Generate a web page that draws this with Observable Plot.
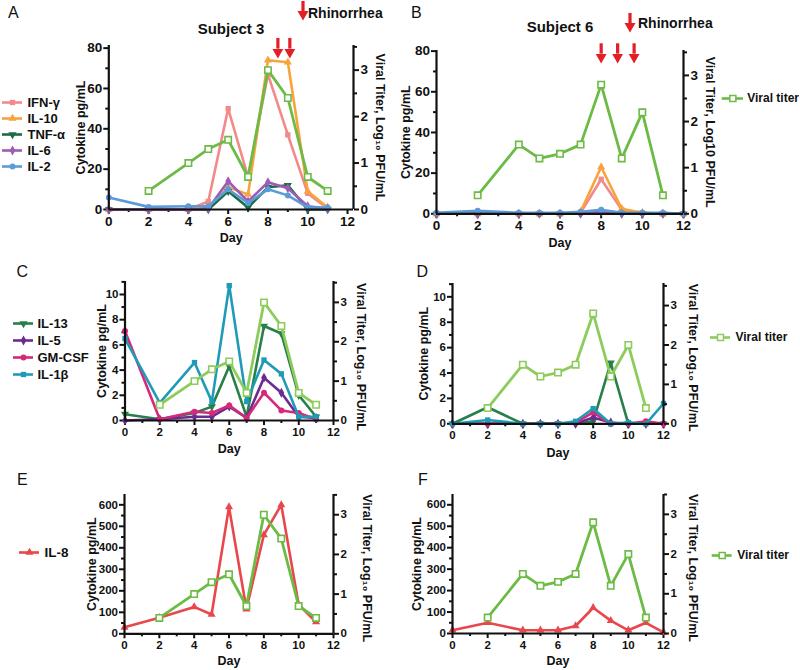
<!DOCTYPE html>
<html><head><meta charset="utf-8">
<script src="https://cdn.jsdelivr.net/npm/d3@7"></script>
<script src="https://cdn.jsdelivr.net/npm/@observablehq/plot@0.6"></script>
<style>
body{margin:0;background:#fff;}
#root{position:relative;width:800px;height:670px;font-family:"Liberation Sans",Arial,Helvetica,sans-serif;overflow:hidden;background:#fff}
#root > *{position:absolute}
.letter{font-size:16px;line-height:1;font-weight:normal;color:#111}
.title{font-size:15px;line-height:1;font-weight:bold;color:#111;transform:translateX(-50%);white-space:nowrap}
.rhino{font-size:14px;line-height:1;font-weight:bold;color:#111;white-space:nowrap}
</style></head><body><div id="root"></div>
<script>
// ---------- data ----------
const xMajor = [0, 2, 4, 6, 8, 10, 12];
const xMinor = [1, 3, 5, 7, 9, 11];

// Subject 3
const daysS3 = [0, 2, 4, 5, 6, 7, 8, 9, 10, 11];
const titerDays = [2, 4, 5, 6, 7, 8, 9, 10, 11];
const titerS3 = [0.4, 1.0, 1.3, 1.5, 0.7, 3.0, 2.4, 0.7, 0.4];
const ifngS3 = [0, 0, 0, 4, 50, 16, 67, 37, 8, 0.5];
const il10S3 = [0, 0, 0, 1, 11, 7.5, 74, 73, 9, 1];
const tnfaS3 = [0, 0, 0, 0, 9, 1, 11, 12, 0, 0];
const il6S3 = [0, 0, 0, 0.5, 14, 4, 13.5, 10.5, 1.6, 0.5];
const il2S3 = [6, 1.3, 1.6, 1.6, 10, 3.2, 10, 7, 1.1, 1];
const il13S3 = [0.5, 0.1, 0.6, 1.1, 4.3, 0.3, 7.5, 6.9, 2.0, 0.3];
const il5S3 = [0, 0.1, 0.3, 0.3, 1.1, 0.2, 3.4, 2.2, 0.3, 0.2];
const gmcsfS3 = [7.1, 0.1, 0.7, 0.6, 1.2, 0.2, 2.2, 0.8, 0.6, 0.1];
const il1bS3 = [6.5, 1.4, 4.6, 1.5, 10.7, 1.5, 4.8, 3.7, 0.3, 0.3];
const il8S3 = [30, 75, 125, 90, 590, 115, 460, 600, 135, 55];

// Subject 6
const daysS6 = [0, 2, 4, 5, 6, 7, 8, 9, 10, 11, 12];
const titerS6B = [0.4, 1.5, 1.2, 1.3, 1.5, 2.8, 1.2, 2.2, 0.4];
const titerS6 = [0.4, 1.5, 1.2, 1.3, 1.5, 2.8, 1.2, 2.0, 0.4];
const ifngS6 = [0, 0, 0, 0, 0, 0.5, 17, 2, 0.5, 0, 0];
const il10S6 = [0, 0, 0, 0, 0, 1, 23, 2.5, 0.5, 0, 0];
const tnfaS6 = [0, 0, 0, 0, 0, 0, 1, 0, 0, 0, 0];
const il6S6 = [0, 0, 0, 0, 0, 0, 1.2, 0, 0, 0, 0];
const il2S6 = [0.5, 1.5, 0.5, 0.5, 0.5, 1, 2, 0.5, 0.5, 0.5, 0];
const il13S6 = [0, 1.3, 0, 0, 0, 0, 0.2, 4.8, 0, 0, 0];
const il5S6 = [0, 0, 0, 0, 0, 0, 0.5, 0.1, 0, 0, 0];
const gmcsfS6 = [0, 0, 0, 0, 0, 0.1, 0.9, 0, 0, 0.2, 0];
const il1bS6 = [0, 0.3, 0, 0, 0, 0.2, 1.2, 0, 0.1, 0, 1.6];
const il8S6 = [15, 50, 15, 15, 15, 35, 120, 60, 15, 50, 5];

// rhinorrhea arrows (day positions)
const rhinoDaysA = [8.5, 9.1];
const rhinoDaysB = [8, 8.8, 9.6];

// ---------- styles ----------
const C = {
  ifng: "#f28a8a", il10: "#f8a33c", tnfa: "#1c6b45", il6: "#9d5cb6", il2: "#5d9bd8",
  titer: "#6cbb45", titerLight: "#8dcc5b",
  il13: "#278049", il5: "#6b2c92", gmcsf: "#d6297a", il1b: "#1f9bb8", il8: "#e8474c",
  red: "#e41e26"
};
const FONT = '"Liberation Sans", Arial, Helvetica, sans-serif';

const root = document.getElementById("root");
function zip(days, vals) { return days.map((d, i) => ({day: d, v: vals[i]})); }

function seriesMarks(s) {
  const data = zip(s.days, s.values);
  return [
    Plot.line(data, {x: "day", y: "v", stroke: s.color, strokeWidth: 2.6, strokeLinejoin: "round"}),
    Plot.dot(data, {x: "day", y: "v", symbol: s.symbol, rotate: s.rotate || 0, fill: s.color, r: 3})
  ];
}

function place(el, left, top) {
  el.style.position = "absolute";
  el.style.left = left + "px";
  el.style.top = top + "px";
  root.appendChild(el);
}

function buildPanel(p) {
  const W = p.width, H = p.height;
  const margins = {
    marginLeft: p.fx0 - p.left, marginRight: p.left + W - p.fx1,
    marginTop: p.fy0 - p.top, marginBottom: p.top + H - p.fy1
  };
  const style = {background: "transparent", overflow: "visible", fontFamily: FONT, fontWeight: "bold", fontSize: p.tickFs + "px", color: "#111"};
  const m1 = [];
  m1.push(Plot.axisX({ticks: xMajor, tickSize: 5, tickPadding: 2, tickFormat: d => String(d), label: null, strokeWidth: 2, fontSize: p.tickFs}));
  m1.push(Plot.axisX({ticks: xMinor, tickSize: 3, tickFormat: () => "", label: null, strokeWidth: 2}));
  m1.push(Plot.axisY({anchor: "left", ticks: p.yTicks, tickSize: 5, tickPadding: 1.5, tickFormat: d => String(d), label: null, strokeWidth: 2, fontSize: p.tickFs}));
  m1.push(Plot.axisY({anchor: "left", ticks: p.yMinor, tickSize: 3, tickFormat: () => "", label: null, strokeWidth: 2}));
  for (const s of p.series) m1.push(...seriesMarks(s));
  m1.push(Plot.ruleX([p.xDomain[0]], {x: d => d, stroke: "#111", strokeWidth: 2.2}));
  m1.push(Plot.ruleY([0], {y: d => d, stroke: "#111", strokeWidth: 2.2}));
  if (p.arrows) {
    m1.push(Plot.ruleX(p.arrows.days, {x: d => d, y1: p.arrows.top, y2: p.arrows.mid, stroke: C.red, strokeWidth: 3.2}));
    m1.push(Plot.dot(p.arrows.days, {x: d => d, y: p.arrows.head, symbol: "triangle", rotate: 180, fill: C.red, r: 4}));
  }
  m1.push(Plot.text(["Day"], {text: d => d, frameAnchor: "bottom", textAnchor: "middle", lineAnchor: "middle", dy: p.dayDy, fontSize: 12.5, fontWeight: "bold"}));
  m1.push(Plot.text(["Cytokine pg/mL"], {text: d => d, frameAnchor: "left", textAnchor: "middle", lineAnchor: "middle", rotate: -90, dx: p.ldx, fontSize: 12.5, fontWeight: "bold"}));

  const svg1 = Plot.plot({
    width: W, height: H, ...margins, style,
    x: {domain: p.xDomain},
    y: {domain: p.yDomain},
    marks: m1
  });

  const td = zip(titerDays, p.titer);
  const m2 = [
    Plot.axisY({anchor: "right", ticks: [0, 1, 2, 3], tickSize: 5, tickPadding: 2, tickFormat: d => String(d), label: null, strokeWidth: 2, fontSize: p.tickFs}),
    Plot.axisY({anchor: "right", ticks: [0.5, 1.5, 2.5, 3.5], tickSize: 3, tickFormat: () => "", label: null, strokeWidth: 2}),
    Plot.ruleX([p.xDomain[1]], {x: d => d, stroke: "#111", strokeWidth: 2.2}),
    Plot.line(td, {x: "day", y: "v", stroke: p.titerColor, strokeWidth: 2.8, strokeLinejoin: "round"}),
    Plot.dot(td, {x: "day", y: "v", symbol: "square", fill: "white", stroke: p.titerColor, strokeWidth: 1.6, r: 3.6}),
    Plot.text([p.rightTitle], {text: d => d, frameAnchor: "right", textAnchor: "middle", lineAnchor: "middle", rotate: 90, dx: p.rdx, dy: p.rdy || 0, fontSize: 12.5, fontWeight: "bold"})
  ];
  const svg2 = Plot.plot({
    width: W, height: H, ...margins, style,
    x: {domain: p.xDomain, axis: null},
    y: {domain: p.rDomain},
    marks: m2
  });
  place(svg1, p.left, p.top);
  place(svg2, p.left, p.top);
}

function buildLegend(l) {
  const marks = [];
  for (const it of l.items) {
    marks.push(Plot.ruleY([it.name], {y: d => d, x1: l.x0, x2: l.x1, stroke: it.color, strokeWidth: 2.6}));
    marks.push(Plot.dot([it.name], {y: d => d, x: (l.x0 + l.x1) / 2, symbol: it.symbol, rotate: it.rotate || 0,
      fill: it.open ? "white" : it.color, stroke: it.open ? it.color : "none", strokeWidth: it.open ? 1.5 : 0, r: it.open ? 3.4 : 3}));
  }
  marks.push(Plot.text(l.items, {y: "name", x: l.tx, text: "name", textAnchor: "start", lineAnchor: "middle", fontSize: l.fs, fontWeight: "bold", fill: "#111"}));
  const svg = Plot.plot({
    width: l.width, height: l.height, margin: 0,
    style: {background: "transparent", overflow: "visible", fontFamily: FONT},
    x: {type: "identity", axis: null},
    y: {type: "point", domain: l.items.map(d => d.name), range: l.range, padding: 0, axis: null},
    marks
  });
  place(svg, l.left, l.top);
}

// ---------- panels ----------
const itemsA = [
  {name: "IFN-γ", color: C.ifng, symbol: "square"},
  {name: "IL-10", color: C.il10, symbol: "triangle"},
  {name: "TNF-α", color: C.tnfa, symbol: "triangle", rotate: 180},
  {name: "IL-6", color: C.il6, symbol: "diamond"},
  {name: "IL-2", color: C.il2, symbol: "circle"}
];
const itemsC = [
  {name: "IL-13", color: C.il13, symbol: "triangle", rotate: 180},
  {name: "IL-5", color: C.il5, symbol: "diamond"},
  {name: "GM-CSF", color: C.gmcsf, symbol: "circle"},
  {name: "IL-1β", color: C.il1b, symbol: "square"}
];

const mk = (days, vals, it) => ({days, values: vals, color: it.color, symbol: it.symbol, rotate: it.rotate});

buildPanel({
  left: 0, top: 0, width: 400, height: 250, fx0: 108.3, fx1: 353, fy0: 45, fy1: 209,
  xDomain: [0, 12.3], yDomain: [0, 81.3], rDomain: [0, 3.53],
  yTicks: [0, 20, 40, 60, 80], yMinor: [10, 30, 50, 70], tickFs: 13.5,
  series: [mk(daysS3, ifngS3, itemsA[0]), mk(daysS3, il10S3, itemsA[1]), mk(daysS3, tnfaS3, itemsA[2]), mk(daysS3, il6S3, itemsA[3]), mk(daysS3, il2S3, itemsA[4])],
  titer: titerS3, titerColor: C.titer,
  arrows: {days: rhinoDaysA, top: 84.8, mid: 79.5, head: 78},
  dayDy: 28, ldx: -28, rdx: 26, rightTitle: "Viral Titer, Log₁₀ PFU/mL"
});
buildPanel({
  left: 400, top: 0, width: 400, height: 250, fx0: 436, fx1: 683, fy0: 50, fy1: 213.3,
  xDomain: [0, 12], yDomain: [0, 80.3], rDomain: [0, 3.54],
  yTicks: [0, 20, 40, 60, 80], yMinor: [10, 30, 50, 70], tickFs: 13.5,
  series: [mk(daysS6, ifngS6, itemsA[0]), mk(daysS6, il10S6, itemsA[1]), mk(daysS6, tnfaS6, itemsA[2]), mk(daysS6, il6S6, itemsA[3]), mk(daysS6, il2S6, itemsA[4])],
  titer: titerS6B, titerColor: C.titer,
  arrows: {days: rhinoDaysB, top: 83.6, mid: 78.5, head: 77},
  dayDy: 29, ldx: -31, rdx: 26, rightTitle: "Viral Titer, Log10 PFU/mL"
});
buildPanel({
  left: 0, top: 230, width: 400, height: 230, fx0: 124.5, fx1: 333, fy0: 281, fy1: 420,
  xDomain: [0, 12], yDomain: [0, 11.03], rDomain: [0, 3.53],
  yTicks: [0, 2, 4, 6, 8, 10], yMinor: [1, 3, 5, 7, 9, 11], tickFs: 11.5,
  series: [mk(daysS3, il13S3, itemsC[0]), mk(daysS3, il5S3, itemsC[1]), mk(daysS3, gmcsfS3, itemsC[2]), mk(daysS3, il1bS3, itemsC[3])],
  titer: titerS3, titerColor: C.titerLight,
  dayDy: 28, ldx: -23, rdx: 27, rdy: 6, rightTitle: "Viral Titer, Log₁₀ PFU/mL"
});
buildPanel({
  left: 400, top: 230, width: 400, height: 230, fx0: 452, fx1: 663, fy0: 283, fy1: 423.3,
  xDomain: [0, 12], yDomain: [0, 11.05], rDomain: [0, 3.56],
  yTicks: [0, 2, 4, 6, 8, 10], yMinor: [1, 3, 5, 7, 9, 11], tickFs: 11.5,
  series: [mk(daysS6, il13S6, itemsC[0]), mk(daysS6, il5S6, itemsC[1]), mk(daysS6, gmcsfS6, itemsC[2]), mk(daysS6, il1bS6, itemsC[3])],
  titer: titerS6, titerColor: C.titerLight,
  dayDy: 29, ldx: -29, rdx: 29, rdy: 4, rightTitle: "Viral Titer, Log₁₀ PFU/mL"
});
buildPanel({
  left: 0, top: 450, width: 400, height: 220, fx0: 124, fx1: 333, fy0: 494, fy1: 633.3,
  xDomain: [0, 12], yDomain: [0, 648], rDomain: [0, 3.51],
  yTicks: [0, 100, 200, 300, 400, 500, 600], yMinor: [50, 150, 250, 350, 450, 550], tickFs: 11.5,
  series: [mk(daysS3, il8S3, {color: C.il8, symbol: "triangle"})],
  titer: titerS3, titerColor: C.titer,
  dayDy: 27, ldx: -33, rdx: 33, rdy: 4, rightTitle: "Viral Titer, Log₁₀ PFU/mL"
});
buildPanel({
  left: 400, top: 450, width: 400, height: 220, fx0: 452, fx1: 663, fy0: 494, fy1: 633,
  xDomain: [0, 12], yDomain: [0, 648], rDomain: [0, 3.5],
  yTicks: [0, 100, 200, 300, 400, 500, 600], yMinor: [50, 150, 250, 350, 450, 550], tickFs: 11.5,
  series: [mk(daysS6, il8S6, {color: C.il8, symbol: "triangle"})],
  titer: titerS6, titerColor: C.titer,
  dayDy: 27, ldx: -36, rdx: 29, rdy: 4, rightTitle: "Viral Titer, Log₁₀ PFU/mL"
});

// ---------- legends ----------
buildLegend({left: 0, top: 0, width: 100, height: 200, items: itemsA, range: [100, 167], x0: 2, x1: 22, tx: 27, fs: 13});
buildLegend({left: 0, top: 230, width: 100, height: 200, items: itemsC, range: [93.3, 144.3], x0: 13, x1: 33, tx: 37, fs: 13});
buildLegend({left: 0, top: 450, width: 100, height: 200, items: [{name: "IL-8", color: C.il8, symbol: "triangle"}], range: [101.7, 101.7], x0: 19, x1: 39, tx: 44, fs: 13.5});
const vt = (c) => [{name: "Viral titer", color: c, symbol: "square", open: true}];
buildLegend({left: 700, top: 0, width: 100, height: 200, items: vt(C.titer), range: [98.3, 98.3], x0: 21.7, x1: 43, tx: 46.7, fs: 12});
buildLegend({left: 700, top: 230, width: 100, height: 200, items: vt(C.titerLight), range: [106.7, 106.7], x0: 10, x1: 30, tx: 35, fs: 12});
buildLegend({left: 700, top: 450, width: 100, height: 200, items: vt(C.titer), range: [105, 105], x0: 11.7, x1: 31.7, tx: 36.7, fs: 12});

// ---------- text annotations ----------
function div(cls, text, left, top) {
  const d = document.createElement("div");
  d.className = cls; d.textContent = text;
  place(d, left, top);
}
div("letter", "A", 8, 4.5);
div("letter", "B", 411, 4.5);
div("letter", "C", 16.5, 263.5);
div("letter", "D", 416.5, 263.5);
div("letter", "E", 17, 471.5);
div("letter", "F", 418, 471.5);
div("title", "Subject 3", 231, 20.5);
div("title", "Subject 6", 560, 18.5);
div("rhino", "Rhinorrhea", 308, 6);
div("rhino", "Rhinorrhea", 638, 16);
function legendArrow(x, y) {
  const ns = "http://www.w3.org/2000/svg";
  const s = document.createElementNS(ns, "svg");
  s.setAttribute("width", 12); s.setAttribute("height", 20);
  s.innerHTML = `<line x1="6" y1="0" x2="6" y2="12" stroke="${C.red}" stroke-width="3.2"/><polygon points="0.5,10 11.5,10 6,19.5" fill="${C.red}"/>`;
  place(s, x - 6, y);
}
legendArrow(303, 1);
legendArrow(630, 13);
</script></body></html>
